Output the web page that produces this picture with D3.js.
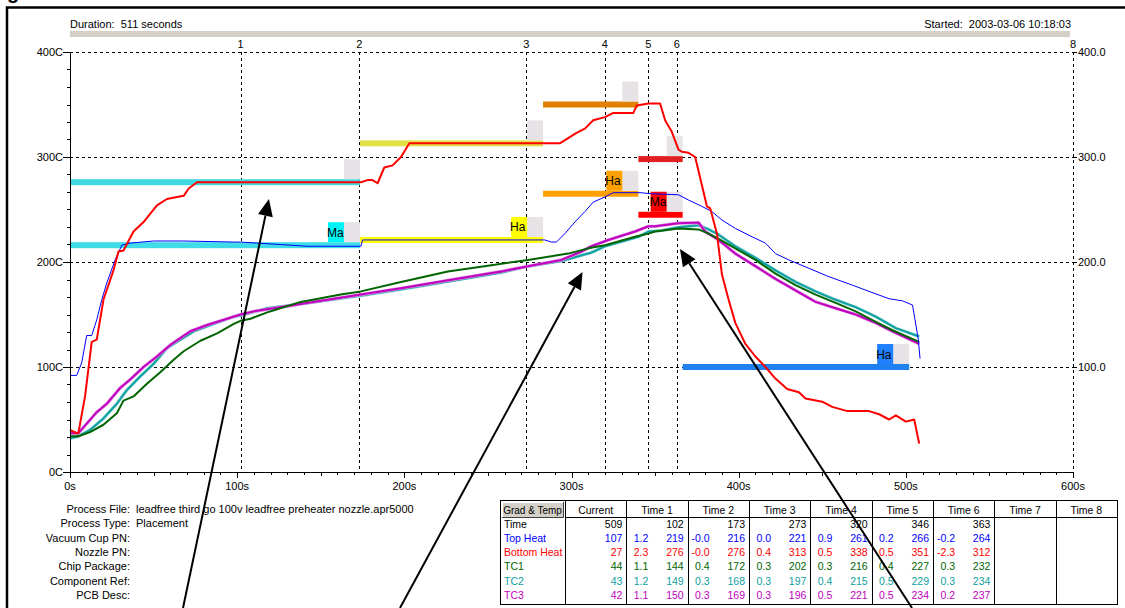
<!DOCTYPE html>
<html><head><meta charset="utf-8">
<script src="https://cdn.jsdelivr.net/npm/d3@7"></script>
<style>
body{margin:0;background:#fff;}
text{font-family:"Liberation Sans",Arial,sans-serif;font-size:11px;white-space:pre;}
.tbl text{font-size:10.5px;}
</style>
</head><body>
<svg id="c" width="1125" height="608"></svg>
<script>
// ---------- DATA ----------
const topHeat = [[0,92],[4,92],[7,104],[10,130],[13,130],[16,145],[19,164],[22,180],[27,202],[31,216],[36,218],[50,220],[68,220],[98,219],[102,219],[142,215],[174,215],[175,221],[284,221],[288,219],[291,219],[296,227],[302,238],[308,248],[313,257],[320,262],[325,266],[341,266],[348,265],[364,264],[370,259],[378,253],[384,248],[390,240],[398,232],[408,224],[416,218],[422,208],[430,202],[442,194],[454,186],[468,178],[478,172],[490,165],[498,163],[504,159],[505.5,145],[507.5,126],[508.5,108]];
const bottomHeat = [[0,40],[4,37],[5,37],[9,72],[13,124],[16,126],[18,145],[20,164],[26,192],[29,210],[32,211],[38,229],[44,238],[52,254],[58,260],[64,262],[68,263],[71,270],[76,276],[174,276],[178,278],[181,278],[184,275],[188,290],[193,292],[198,300],[203,313],[293,313],[298,318],[303,323],[308,327],[313,335],[320,338],[325,342],[337,342],[339,349],[346,351],[353,351],[356,335],[360,324],[364,307],[366,305],[370,304],[374,300],[381,253],[383,251],[387,227],[390,188],[394,164],[398,142],[404,122],[410,110],[416,100],[422,89],[429,79],[436,76],[440,70],[450,67],[456,62],[465,58],[478,58],[484,55],[490,50],[494,54],[500,48],[505,50],[508,27]];
const tc1 = [[0,34],[5,34],[12,38],[20,45],[28,56],[32,68],[38,72],[46,84],[54,95],[62,107],[68,115],[78,125],[88,132],[98,141],[102,144],[108,146],[118,152],[122,154],[138,162],[162,169],[174,172],[198,181],[226,191],[248,196],[274,202],[298,208],[310,213],[320,216],[338,224],[346,227],[350,229],[364,232],[376,231],[382,227],[388,222],[398,213],[410,202],[422,189],[434,178],[446,169],[458,161],[470,153],[482,143],[492,135],[508,124]];
const tc2 = [[0,32],[5,34],[12,40],[20,51],[28,65],[34,78],[42,91],[50,103],[58,118],[66,126],[74,134],[84,140],[98,148],[102,149],[118,156],[138,160],[174,168],[198,174],[228,182],[258,190],[274,196],[294,201],[312,209],[320,215],[340,224],[346,229],[354,230],[364,233],[376,235],[382,231],[388,226],[398,215],[410,204],[422,192],[434,181],[446,172],[458,164],[470,157],[482,148],[494,137],[508,129]];
const tc3 = [[0,37],[5,37],[10,46],[16,57],[22,65],[30,80],[36,88],[44,100],[52,110],[60,121],[72,134],[82,140],[94,146],[102,150],[110,153],[134,159],[138,160],[174,169],[198,175],[228,183],[258,191],[274,196],[294,202],[306,210],[312,215],[322,221],[338,229],[346,234],[350,234],[364,237],[376,237.5],[380,229],[388,221],[398,208],[410,196],[422,184],[434,173],[446,162],[458,156],[470,150],[482,142],[492,134],[508,122]];

const seriesNames = ["Top Heat","Bottom Heat","TC1","TC2","TC3"];
const seriesColors = ["#0000ff","#ff0000","#006400","#10a0a0","#c000c0"];

// setpoint stages
const stageStart = [0,173.5,283,340,366.5];
const stageEnd   = [173.5,283,340,366.5,502];
const upperSet   = [276,313,350,298,null];
const lowerSet   = [216,221,265,245,100];
const stageLabel = ["Ma","Ha","Ha","Ma","Ha"];
const upperColors = ["#40d8e0","#e0e048","#e08000","#e02020",null];
const lowerColors = ["#40dce8","#ffff00","#ffa000","#ff0000","#2080f0"];
const labelColors = ["#00f4f8","#ffff00","#ffa000","#ff0000","#2080ff"];

// time markers
const markerTimes  = [102,173,273,320,346,363,600];
const markerLabels = ["1","2","3","4","5","6","8"];

// axes
const yTicks = [0,100,200,300,400];
const yTickLabels = ["0C","100C","200C","300C","400C"];
const rightTicks = [100,200,300,400];
const rightTickLabels = ["100.0","200.0","300.0","400.0"];
const xTicks = [0,100,200,300,400,500,600];
const xTickLabels = ["0s","100s","200s","300s","400s","500s","600s"];

// annotation arrows [tailT, tailTemp, tipT, tipTemp]
const arrows = [[67.6,-129.5,119,260],[197.4,-129.5,306.6,190.5],[503.7,-129.5,364.9,212.4]];

// info block
const infoLabels = ["Process File:","Process Type:","Vacuum Cup PN:","Nozzle PN:","Chip Package:","Component Ref:","PCB Desc:"];
const infoValues = ["leadfree third go 100v leadfree preheater nozzle.apr5000","Placement","","","","",""];

// table
const tableHeaders = ["Current","Time 1","Time 2","Time 3","Time 4","Time 5","Time 6","Time 7","Time 8"];
const tableTimes = ["509","102","173","273","320","346","363","",""];
const tableCurrent = ["107","27","44","43","42"];
const tableGrad = [
  ["1.2","-0.0","0.0","0.9","0.2","-0.2"],
  ["2.3","-0.0","0.4","0.5","0.5","-2.3"],
  ["1.1","0.4","0.3","0.3","0.4","0.3"],
  ["1.2","0.3","0.3","0.4","0.5","0.3"],
  ["1.1","0.3","0.3","0.5","0.5","0.2"]];
const tableTemp = [
  ["219","216","221","261","266","264"],
  ["276","276","313","338","351","312"],
  ["144","172","202","216","227","232"],
  ["149","168","197","215","229","234"],
  ["150","169","196","221","234","237"]];

// ---------- DRAW ----------
const svg = d3.select("#c");
const x = d3.scaleLinear().domain([0,600]).range([70,1073]);
const y = d3.scaleLinear().domain([0,400]).range([472,52]);

svg.append("rect").attr("width",1125).attr("height",608).attr("fill","#fff");
// title fragment (clipped at top, as in the reference)
svg.append("text").attr("x",7).attr("y",-1).style("font-size","20px").style("font-weight","bold").text("g");
// frame
svg.append("path").attr("d","M7,608 V7.5 H1125").attr("fill","none").attr("stroke","#000").attr("stroke-width",2.5);

// header
svg.append("text").attr("x",70).attr("y",28).text("Duration:  511 seconds");
svg.append("text").attr("x",1071).attr("y",28).attr("text-anchor","end").text("Started:  2003-03-06 10:18:03");
svg.append("rect").attr("x",70).attr("y",31).attr("width",1000).attr("height",6).attr("fill","#d4d0c8");

// gridlines
svg.append("g").selectAll("line").data(rightTicks).join("line")
  .attr("x1",x(0)).attr("x2",x(600)).attr("y1",d=>Math.round(y(d))+0.5).attr("y2",d=>Math.round(y(d))+0.5)
  .attr("stroke","#000").attr("stroke-dasharray","3,3").attr("stroke-width",1);
const mk = svg.append("g");
mk.selectAll("line").data(markerTimes).join("line")
  .attr("x1",d=>Math.round(x(d))+0.5).attr("x2",d=>Math.round(x(d))+0.5).attr("y1",y(400)).attr("y2",y(0))
  .attr("stroke","#000").attr("stroke-dasharray","3,3").attr("stroke-width",1);
mk.selectAll("text").data(markerTimes).join("text")
  .attr("x",d=>x(d)).attr("y",y(400)-4).attr("text-anchor","middle")
  .text((d,i)=>markerLabels[i]);

// setpoint bars
const sp = svg.append("g");
stageStart.forEach((s,i)=>{
  const x0 = x(s), x1 = x(stageEnd[i]);
  if (upperSet[i]!==null){
    sp.append("rect").attr("x",x0).attr("y",y(upperSet[i])-3).attr("width",x1-x0).attr("height",6).attr("fill",upperColors[i]);
    sp.append("rect").attr("x",x1-16).attr("y",y(upperSet[i])-23).attr("width",16).attr("height",20).attr("fill","#e6e2e6");
  }
  sp.append("rect").attr("x",x0).attr("y",y(lowerSet[i])-3).attr("width",x1-x0).attr("height",6).attr("fill",lowerColors[i]);
  sp.append("rect").attr("x",x1-16).attr("y",y(lowerSet[i])-23).attr("width",16).attr("height",20).attr("fill","#e6e2e6");
  sp.append("rect").attr("x",x1-32).attr("y",y(lowerSet[i])-23).attr("width",16).attr("height",20).attr("fill",labelColors[i]);
  sp.append("text").attr("x",x1-33).attr("y",y(lowerSet[i])-8.5).style("font-size","12px").text(stageLabel[i]);
});

// curves
const line = d3.line().x(d=>x(d[0])).y(d=>y(d[1]));
const allSeries = [topHeat,bottomHeat,tc1,tc2,tc3];
const widths = [1,2,2,2,2];
const order = [3,4,2,0,1];
order.forEach(i=>{
  if (i===3 || i===4){
    svg.append("path").datum(allSeries[i]).attr("d",line).attr("fill","none")
      .attr("stroke", i===3?"#90d8d8":"#e090e0").attr("stroke-width",3.2);
  }
  svg.append("path").datum(allSeries[i]).attr("d",line).attr("fill","none")
    .attr("stroke",seriesColors[i]).attr("stroke-width",widths[i]).attr("stroke-linejoin","round");
});

// left axis
const la = svg.append("g");
la.append("line").attr("x1",70.5).attr("x2",70.5).attr("y1",y(400)).attr("y2",y(0)).attr("stroke","#000");
const yMinor = d3.range(0,400.01,100/6);
la.selectAll(".ym").data(yMinor).join("line").attr("x1",67).attr("x2",71)
  .attr("y1",d=>Math.round(y(d))+0.5).attr("y2",d=>Math.round(y(d))+0.5).attr("stroke","#000");
la.selectAll(".yM").data(yTicks).join("line").attr("x1",63).attr("x2",73)
  .attr("y1",d=>Math.round(y(d))+0.5).attr("y2",d=>Math.round(y(d))+0.5).attr("stroke","#000");
la.selectAll("text").data(yTicks).join("text").attr("x",63).attr("y",d=>y(d)+4).attr("text-anchor","end")
  .text((d,i)=>yTickLabels[i]);

// right labels
const ra = svg.append("g");
ra.selectAll("line").data(rightTicks).join("line").attr("x1",x(600)).attr("x2",x(600)+4)
  .attr("y1",d=>Math.round(y(d))+0.5).attr("y2",d=>Math.round(y(d))+0.5).attr("stroke","#000");
ra.selectAll("text").data(rightTicks).join("text").attr("x",x(600)+5).attr("y",d=>y(d)+4)
  .text((d,i)=>rightTickLabels[i]);

// bottom axis
const ba = svg.append("g");
ba.append("line").attr("x1",x(0)).attr("x2",x(600)).attr("y1",472.5).attr("y2",472.5).attr("stroke","#000");
const xMinor = d3.range(0,600.01,10);
ba.selectAll(".xm").data(xMinor).join("line")
  .attr("x1",d=>Math.round(x(d))+0.5).attr("x2",d=>Math.round(x(d))+0.5)
  .attr("y1",472).attr("y2",d=>d%100===0?478:(d%50===0?476:475)).attr("stroke","#000");
ba.selectAll("text").data(xTicks).join("text").attr("x",d=>x(d)).attr("y",490).attr("text-anchor","middle")
  .text((d,i)=>xTickLabels[i]);

// info block
const ib = svg.append("g");
infoLabels.forEach((l,i)=>{
  ib.append("text").attr("x",130).attr("y",513+i*14.3).attr("text-anchor","end").text(l);
  ib.append("text").attr("x",136).attr("y",513+i*14.3).text(infoValues[i]);
});

// table
const tb = svg.append("g").attr("class","tbl");
const tL=500, tR=1117, tT=500, tB=604, c0=565;
const cw=(tR-c0)/9;
tb.append("rect").attr("x",tL+0.5).attr("y",tT+0.5).attr("width",tR-tL).attr("height",tB-tT).attr("fill","#fff").attr("stroke","#000");
tb.append("line").attr("x1",c0).attr("x2",tR).attr("y1",517.5).attr("y2",517.5).attr("stroke","#000");
d3.range(10).forEach(k=>{
  tb.append("line").attr("x1",Math.round(c0+k*cw)+0.5).attr("x2",Math.round(c0+k*cw)+0.5).attr("y1",tT).attr("y2",tB).attr("stroke","#000");
});
// grad & temp button
tb.append("rect").attr("x",502).attr("y",502).attr("width",61).attr("height",16).attr("fill","#d4d0c8");
tb.append("path").attr("d","M502.5,517.5 V502.5 H563").attr("fill","none").attr("stroke","#fff");
tb.append("path").attr("d","M502,517.5 H563.5 V502").attr("fill","none").attr("stroke","#404040");
tb.append("text").attr("x",532.5).attr("y",513.5).attr("text-anchor","middle").style("font-size","10px").text("Grad & Temp");
tableHeaders.forEach((h,k)=>{
  tb.append("text").attr("x",c0+k*cw+cw/2).attr("y",513.5).attr("text-anchor","middle").text(h);
  tb.append("text").attr("x",c0+(k+1)*cw-4).attr("y",527.5).attr("text-anchor","end").text(tableTimes[k]);
});
const rowNames = ["Time"].concat(seriesNames);
rowNames.forEach((r,i)=>{
  tb.append("text").attr("x",504).attr("y",527.5+i*14.3).attr("fill",i===0?"#000":seriesColors[i-1]).text(r);
});
seriesNames.forEach((s,i)=>{
  const yy = 541.8+i*14.3;
  tb.append("text").attr("x",c0+cw-4).attr("y",yy).attr("text-anchor","end").attr("fill",seriesColors[i]).text(tableCurrent[i]);
  tableGrad[i].forEach((g,k)=>{
    const cx = c0+(k+1)*cw;
    tb.append("text").attr("x",cx+22).attr("y",yy).attr("text-anchor","end").attr("fill",seriesColors[i]).text(g);
    tb.append("text").attr("x",cx+cw-4).attr("y",yy).attr("text-anchor","end").attr("fill",seriesColors[i]).text(tableTemp[i][k]);
  });
});

// arrows
const ag = svg.append("g");
arrows.forEach(a=>{
  const x0=x(a[0]), y0=y(a[1]), x1=x(a[2]), y1=y(a[3]);
  const ang=Math.atan2(y1-y0,x1-x0), L=17, W=7.5;
  const bx=x1-L*Math.cos(ang), by=y1-L*Math.sin(ang);
  ag.append("line").attr("x1",x0).attr("y1",y0).attr("x2",bx).attr("y2",by).attr("stroke","#000").attr("stroke-width",2);
  ag.append("path").attr("d",`M${x1},${y1} L${bx+W*Math.sin(ang)},${by-W*Math.cos(ang)} L${bx-W*Math.sin(ang)},${by+W*Math.cos(ang)} Z`).attr("fill","#000");
});
</script>
</body></html>
